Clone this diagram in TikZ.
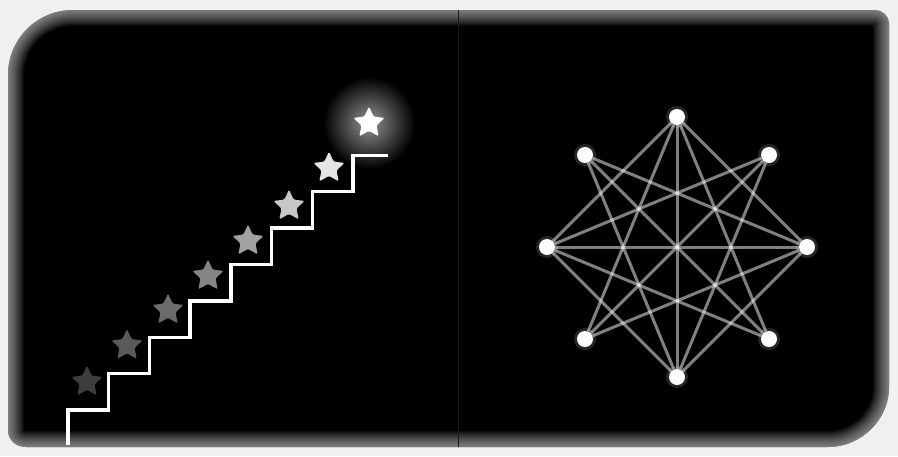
\documentclass[tikz,border=0pt]{standalone}
\usetikzlibrary{shapes.geometric}
\begin{document}
\begin{tikzpicture}[x=1pt,y=-1pt,
  starnode/.style={star, star points=5, star point ratio=2.1, minimum size=33pt, inner sep=0pt, rounded corners=1.5pt},
  stair/.style={draw=white, line width=3.4pt, line join=miter},
  vert/.style={circle, fill=white, minimum size=16pt, inner sep=0pt},
  halo/.style={circle, fill=white, fill opacity=0.15, minimum size=22pt, inner sep=0pt},
  link/.style={draw=white, draw opacity=0.5, line width=3pt},
  fadeedge/.style={draw=white, draw opacity=0.045},
]
\useasboundingbox (0,0) rectangle (898,456);
\fill[black!6] (0,0) rectangle (898,456);
\def\boxpath{(8,75) .. controls (8,39) and (37,10) .. (73,10) -- (875,10) .. controls (882,10) and (889,16) .. (889,23) -- (889,387) .. controls (889,420) and (861,447) .. (828,447) -- (26,447) .. controls (16,447) and (8,440) .. (8,430) -- cycle}
\begin{scope}
  \clip \boxpath;
  \fill[black] (0,0) rectangle (898,456);
  \foreach \w in {2,4,...,32} { \draw[fadeedge, line width=\w pt] \boxpath; }
  \draw[black!90, line width=1pt] (458,0) -- (458,456);
\end{scope}

% glow of the top star
\shade[inner color=white!58!black, outer color=black] (369,123) circle (46);

% staircase
\draw[stair] (68,445) -- (68,410) -- (108.7,410) -- (108.7,373.6) -- (149.4,373.6) -- (149.4,337.2) -- (190.1,337.2) -- (190.1,300.8) -- (230.8,300.8) -- (230.8,264.4) -- (271.5,264.4) -- (271.5,228) -- (312.2,228) -- (312.2,191.6) -- (352.9,191.6) -- (352.9,155.2) -- (388,155.2);

% stars
\node[starnode, fill=black!76] (s1) at (87,382) {};
\node[starnode, fill=black!65] (s2) at (127,345.5) {};
\node[starnode, fill=black!58] (s3) at (168,310) {};
\node[starnode, fill=black!48] (s4) at (208,276) {};
\node[starnode, fill=black!37] (s5) at (248,241) {};
\node[starnode, fill=black!22] (s6) at (289,206) {};
\node[starnode, fill=black!10] (s7) at (329,168) {};
\node[starnode, fill=white] (s8) at (369,123) {};

% graph
\foreach \p/\n in {{(677,117)}/0,{(769,155)}/1,{(807,247)}/2,{(769,339)}/3,{(677,377)}/4,{(585,339)}/5,{(547,247)}/6,{(585,155)}/7}
  \node[halo] (h\n) at \p {};
\node[vert] (v0) at (677,117) {};
\node[vert] (v1) at (769,155) {};
\node[vert] (v2) at (807,247) {};
\node[vert] (v3) at (769,339) {};
\node[vert] (v4) at (677,377) {};
\node[vert] (v5) at (585,339) {};
\node[vert] (v6) at (547,247) {};
\node[vert] (v7) at (585,155) {};
% diamond
\draw[link] (v0) -- (v2);
\draw[link] (v2) -- (v4);
\draw[link] (v4) -- (v6);
\draw[link] (v6) -- (v0);
% diameters
\draw[link] (v0) -- (v4);
\draw[link] (v1) -- (v5);
\draw[link] (v2) -- (v6);
\draw[link] (v3) -- (v7);
% octagram
\draw[link] (v0) -- (v3);
\draw[link] (v1) -- (v4);
\draw[link] (v2) -- (v5);
\draw[link] (v3) -- (v6);
\draw[link] (v4) -- (v7);
\draw[link] (v5) -- (v0);
\draw[link] (v6) -- (v1);
\draw[link] (v7) -- (v2);
\end{tikzpicture}
\end{document}
